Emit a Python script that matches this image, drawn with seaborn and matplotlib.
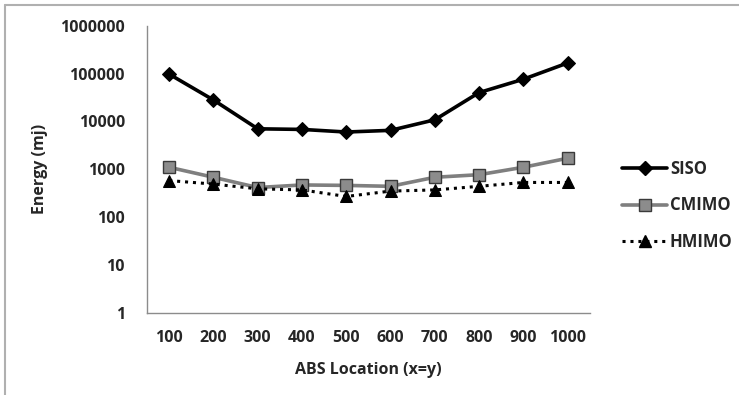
import numpy as np
import pandas as pd
import matplotlib
matplotlib.use("Agg")
import matplotlib.pyplot as plt
import seaborn as sns
from matplotlib.lines import Line2D

# data
locations = ["100", "200", "300", "400", "500", "600", "700", "800", "900", "1000"]
siso = [97000, 28000, 7000, 6800, 6000, 6500, 10800, 40000, 76000, 166000]
cmimo = [1100, 680, 415, 470, 460, 440, 680, 770, 1100, 1700]
hmimo = [580, 490, 390, 370, 270, 350, 370, 440, 530, 530]

df = pd.DataFrame({
    "loc": locations * 3,
    "x": list(range(len(locations))) * 3,
    "energy": siso + cmimo + hmimo,
    "series": ["SISO"] * 10 + ["CMIMO"] * 10 + ["HMIMO"] * 10,
})

sns.set_style("white")
plt.rcParams["font.family"] = ["Open Sans", "DejaVu Sans"]
plt.rcParams["font.weight"] = "bold"

fig = plt.figure(figsize=(7.39, 3.95), dpi=100)
ax = fig.add_axes([0.199, 0.208, 0.599, 0.727])

styles = {
    "SISO": dict(color="black", marker="D", markersize=7.5, linewidth=2.6, linestyle="-",
                 markerfacecolor="black", markeredgecolor="black"),
    "CMIMO": dict(color="#7f7f7f", marker="s", markersize=9, linewidth=2.6, linestyle="-",
                  markerfacecolor="#8c8c8c", markeredgecolor="#3a3a3a", markeredgewidth=1.0),
    "HMIMO": dict(color="black", marker="^", markersize=9, linewidth=2.2, linestyle=(0, (1, 1.6)),
                  markerfacecolor="black", markeredgecolor="black"),
}

handles = []
for name in ["SISO", "CMIMO", "HMIMO"]:
    sub = df[df["series"] == name]
    st = styles[name]
    sns.lineplot(data=sub, x="x", y="energy", ax=ax, legend=False, **st)
    handles.append(Line2D([], [], label=name, **st))

ax.set_yscale("log")
ax.set_ylim(1, 1000000)
ax.set_yticks([1, 10, 100, 1000, 10000, 100000, 1000000])
ax.set_yticklabels(["1", "10", "100", "1000", "10000", "100000", "1000000"])
ax.yaxis.set_minor_locator(matplotlib.ticker.NullLocator())
ax.set_xlim(-0.5, len(locations) - 0.5)
ax.set_xticks(range(len(locations)))
ax.set_xticklabels(locations)
ax.set_xticks(np.arange(-0.5, len(locations)), minor=True)
ax.tick_params(axis="x", which="major", length=0, pad=12, labelsize=11.5)
ax.tick_params(axis="x", which="minor", length=5, color="#8c8c8c", width=1, direction="out")
ax.tick_params(axis="y", which="major", length=6, color="#8c8c8c", width=1, direction="out",
               labelsize=11.5, pad=10)
for lab in ax.get_xticklabels() + ax.get_yticklabels():
    lab.set_fontweight("bold")

sns.despine(ax=ax)
for sp in ["left", "bottom"]:
    ax.spines[sp].set_color("#8c8c8c")
    ax.spines[sp].set_linewidth(1)

ax.set_xlabel("ABS Location (x=y)", fontsize=11.5, fontweight="bold", labelpad=12)
ax.set_ylabel("Energy (mj)", fontsize=11.5, fontweight="bold", labelpad=9)

fig.legend(handles=handles, loc="center left", bbox_to_anchor=(0.822, 0.48), frameon=False,
           handlelength=2.7, handletextpad=0.15, labelspacing=1.1,
           prop={"weight": "bold", "size": 12})

# outer frame (top and left edges visible in the reference)
fig.add_artist(Line2D([0.007, 0.007], [0.0, 0.987], color="#b0b0b0", lw=1.5, transform=fig.transFigure))
fig.add_artist(Line2D([0.007, 1.0], [0.987, 0.987], color="#b0b0b0", lw=1.5, transform=fig.transFigure))

fig.savefig("out.png", dpi=100)
